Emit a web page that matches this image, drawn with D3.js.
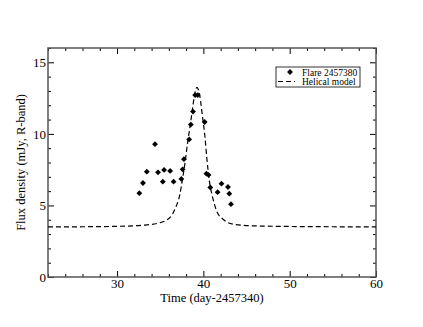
<!DOCTYPE html>
<html lang="en">
<head>
    <meta charset="UTF-8">
    <title>Flare 2457380 with helical model</title>
    <script src="https://d3js.org/d3.v7.min.js"></script>
    <style>
        body { margin: 0; background: #fff; }
        svg text { font-family: "Liberation Serif", "Times New Roman", serif; fill: #000; }
    </style>
</head>
<body>
    <svg width="423" height="327"></svg>
    <script>
        // observed flare points
        const flareTime = [32.58, 33.0, 33.45, 34.4, 34.75, 35.3, 35.45, 36.15, 36.55, 37.45, 37.6, 37.75,
            38.35, 38.55, 38.8, 39.05, 39.35, 40.15, 40.35, 40.6, 40.8, 41.65, 42.1, 42.85, 43.0, 43.2];
        const flareFlux = [5.86, 6.57, 7.36, 9.28, 7.31, 6.66, 7.48, 7.41, 6.66, 6.85, 7.52, 8.23,
            9.61, 10.65, 11.56, 12.71, 12.71, 10.83, 7.22, 7.13, 6.26, 5.93, 6.52, 6.29, 5.82, 5.09];

        // helical model curve
        const modelTime = [22, 26, 30, 33, 35, 36.2, 36.75, 37.25, 37.6, 37.9, 38.2, 38.5, 38.75, 39.0, 39.25,
            39.6, 39.9, 40.2, 40.4, 40.7, 41.1, 41.55, 42.35, 43.5, 45.5, 50, 55, 60];
        const modelFlux = [3.5, 3.51, 3.54, 3.62, 3.8, 4.2, 4.8, 5.7, 6.9, 8.1, 9.5, 10.7, 11.8, 12.8, 13.25,
            12.6, 11.2, 9.7, 8.3, 6.7, 5.5, 4.6, 4.0, 3.68, 3.58, 3.53, 3.51, 3.5];

        const xTicks = [30, 40, 50, 60];
        const yTicks = [0, 5, 10, 15];
        const seriesNames = ['Flare 2457380', 'Helical model'];

        const svg = d3.select('svg');
        const margin = { top: 48, right: 47, bottom: 50, left: 48 };
        const width = 423 - margin.left - margin.right;
        const height = 327 - margin.top - margin.bottom;
        const g = svg.append('g').attr('transform', `translate(${margin.left},${margin.top})`);

        const x = d3.scaleLinear().domain([22, 60]).range([0, width]);
        const y = d3.scaleLinear().domain([0, 16]).range([height, 0]);

        const xMinor = d3.range(22, 60.01, 2).filter(v => !xTicks.includes(v));
        const yMinor = d3.range(0, 16.01, 1).filter(v => !yTicks.includes(v));

        function styleAxis(sel) {
            sel.select('.domain').remove();
            sel.selectAll('line').attr('stroke', '#000');
            sel.selectAll('text').attr('font-size', 13);
        }

        // major ticks (inward)
        g.append('g').attr('transform', `translate(0,${height})`)
            .call(d3.axisBottom(x).tickValues(xTicks).tickSize(-6).tickPadding(2).tickFormat(d3.format('d')))
            .call(styleAxis);
        g.append('g')
            .call(d3.axisTop(x).tickValues(xTicks).tickSize(-6).tickFormat(''))
            .call(styleAxis);
        g.append('g')
            .call(d3.axisLeft(y).tickValues(yTicks).tickSize(-6).tickPadding(2).tickFormat(d3.format('d')))
            .call(styleAxis);
        g.append('g').attr('transform', `translate(${width},0)`)
            .call(d3.axisRight(y).tickValues(yTicks).tickSize(-6).tickFormat(''))
            .call(styleAxis);

        // minor ticks
        g.append('g').attr('transform', `translate(0,${height})`)
            .call(d3.axisBottom(x).tickValues(xMinor).tickSize(-3).tickFormat('')).call(styleAxis);
        g.append('g')
            .call(d3.axisTop(x).tickValues(xMinor).tickSize(-3).tickFormat('')).call(styleAxis);
        g.append('g')
            .call(d3.axisLeft(y).tickValues(yMinor).tickSize(-3).tickFormat('')).call(styleAxis);
        g.append('g').attr('transform', `translate(${width},0)`)
            .call(d3.axisRight(y).tickValues(yMinor).tickSize(-3).tickFormat('')).call(styleAxis);

        // frame
        g.append('rect')
            .attr('width', width).attr('height', height)
            .attr('fill', 'none').attr('stroke', '#555').attr('stroke-width', 1.5);

        // model curve
        const modelData = modelTime.map((t, i) => ({ t, f: modelFlux[i] }));
        const line = d3.line().x(d => x(d.t)).y(d => y(d.f)).curve(d3.curveMonotoneX);
        g.append('path')
            .datum(modelData)
            .attr('d', line)
            .attr('fill', 'none')
            .attr('stroke', '#000')
            .attr('stroke-width', 1.2)
            .attr('stroke-dasharray', '5,3');

        // flare points (diamonds)
        const diamond = d3.symbol().type(d3.symbolSquare).size(17);
        const flareData = flareTime.map((t, i) => ({ t, f: flareFlux[i] }));
        g.selectAll('.pt')
            .data(flareData)
            .enter()
            .append('path')
            .attr('class', 'pt')
            .attr('d', diamond)
            .attr('transform', d => `translate(${x(d.t)},${y(d.f)}) rotate(45)`)
            .attr('fill', '#000');

        // axis titles
        svg.append('text')
            .attr('x', margin.left + width / 2)
            .attr('y', 302)
            .attr('text-anchor', 'middle')
            .attr('font-size', 12.5)
            .text('Time (day-2457340)');
        svg.append('text')
            .attr('transform', `translate(25,${margin.top + height / 2}) rotate(-90)`)
            .attr('text-anchor', 'middle')
            .attr('font-size', 12.5)
            .text('Flux density (mJy, R-band)');

        // legend
        const lg = svg.append('g').attr('transform', 'translate(276,67)');
        lg.append('rect')
            .attr('width', 84).attr('height', 20)
            .attr('fill', '#fff').attr('stroke', '#000').attr('stroke-width', 0.8);
        lg.append('path')
            .attr('d', diamond)
            .attr('transform', 'translate(14,5) rotate(45)')
            .attr('fill', '#000');
        lg.append('line')
            .attr('x1', 2).attr('x2', 19).attr('y1', 14.5).attr('y2', 14.5)
            .attr('stroke', '#000').attr('stroke-width', 1.2).attr('stroke-dasharray', '5,3');
        lg.selectAll('.lt')
            .data(seriesNames)
            .enter()
            .append('text')
            .attr('class', 'lt')
            .attr('x', 26)
            .attr('y', (d, i) => 8.5 + i * 9.5)
            .attr('font-size', 9.5)
            .text(d => d);
    </script>
</body>
</html>
